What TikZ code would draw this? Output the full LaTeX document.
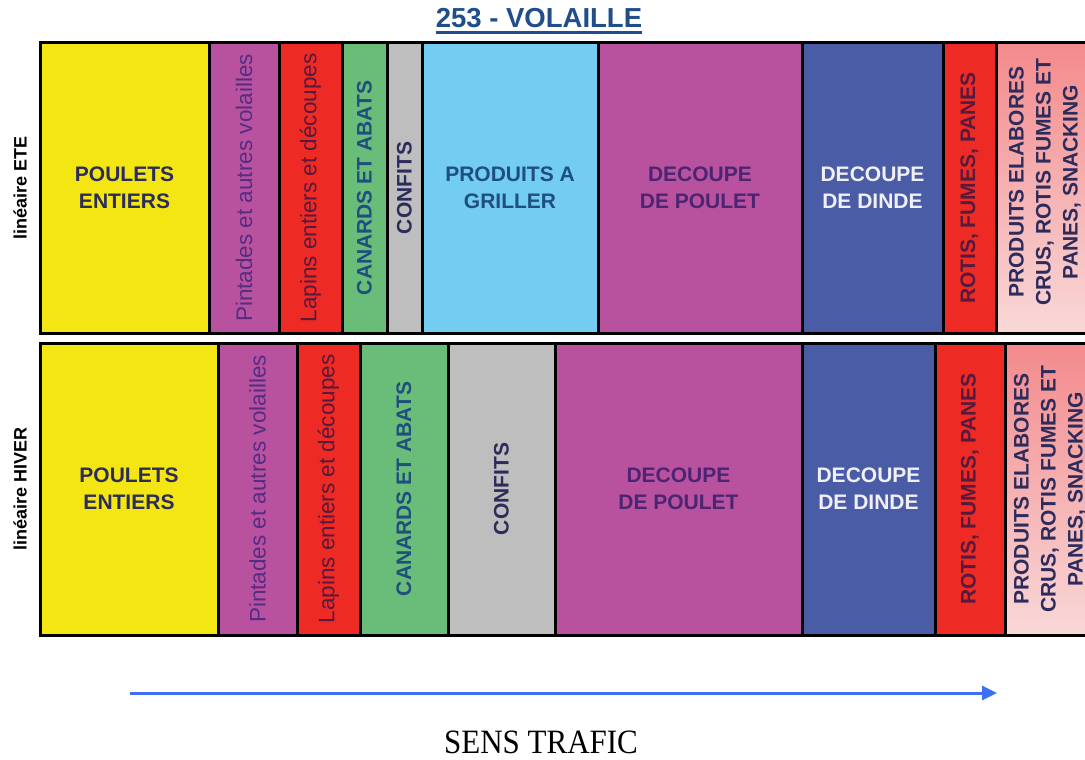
\documentclass[tikz,border=0pt]{standalone}
\usepackage{fontspec}
\setmainfont{Liberation Serif}
\setsansfont{Liberation Sans}
\usepackage{color}
\usepackage{tikz}
\usetikzlibrary{arrows.meta,positioning}

\definecolor{yellowC}{HTML}{F4E612}
\definecolor{purpleC}{HTML}{B9529E}
\definecolor{redC}{HTML}{EE2A25}
\definecolor{greenC}{HTML}{69BD79}
\definecolor{grayC}{HTML}{BEBEBE}
\definecolor{skyC}{HTML}{73CCF1}
\definecolor{dindeC}{HTML}{4B5CA7}
\definecolor{pinkTop}{HTML}{F38A8C}
\definecolor{pinkBot}{HTML}{F9D8D8}
\definecolor{navyT}{HTML}{2C2C5C}
\definecolor{purpleT}{HTML}{552C84}
\definecolor{redT}{HTML}{551A3C}
\definecolor{tealT}{HTML}{1F4F7E}
\definecolor{plumT}{HTML}{4B2472}
\definecolor{dindeT}{HTML}{F0F0F8}
\definecolor{titleblue}{HTML}{1F4E8A}
\definecolor{trafic}{HTML}{3F6FF3}

\newcommand{\cellfont}{\sffamily\bfseries\fontsize{21}{27}\selectfont}
\newcommand{\cellthinfont}{\sffamily\fontsize{22.5}{27}\selectfont}
\newcommand{\volfont}{\sffamily\bfseries\fontsize{27.5}{30}\selectfont}
\newcommand{\sidefont}{\sffamily\bfseries\fontsize{18}{20}\selectfont}
\newcommand{\sensfont}{\rmfamily\fontsize{31}{34}\selectfont}

\begin{document}
\begin{tikzpicture}[x=1pt,y=-1pt]
  \tikzstyle{cell} = [rectangle,draw=black,line width=3pt,inner sep=0pt,outer sep=0pt,align=center,font=\cellfont]
  \tikzstyle{vtext} = [rotate=90,inner sep=0pt,align=center,font=\cellfont]
  \tikzstyle{vthin} = [rotate=90,inner sep=0pt,font=\cellthinfont]

  \useasboundingbox (0,0) rectangle (1085,760);
  \clip (0,0) rectangle (1085,760);

  \node[anchor=base,inner sep=0pt,font=\volfont,text=titleblue] (title) at (539,28) {253 - VOLAILLE};
  \draw[titleblue,line width=3pt] ([yshift=-5pt]title.base west) -- ([yshift=-5pt]title.base east);

  % linéaire ETE
  \node[rotate=90,font=\sidefont] (lblEte) at (20,188) {linéaire ETE};
  \node[cell,fill=yellowC,text=navyT,minimum width=169pt,minimum height=290pt,anchor=north west] (tPoulets) at (40,43) {POULETS\\ENTIERS};
  \node[cell,fill=purpleC,minimum width=70pt,minimum height=290pt,right=0pt of tPoulets] (tPintades) {};
  \node[cell,fill=redC,minimum width=63pt,minimum height=290pt,right=0pt of tPintades] (tLapins) {};
  \node[cell,fill=greenC,minimum width=45pt,minimum height=290pt,right=0pt of tLapins] (tCanards) {};
  \node[cell,fill=grayC,minimum width=35pt,minimum height=290pt,right=0pt of tCanards] (tConfits) {};
  \node[cell,fill=skyC,text=tealT,minimum width=176pt,minimum height=290pt,right=0pt of tConfits] (tGriller) {PRODUITS A\\GRILLER};
  \node[cell,fill=purpleC,text=plumT,minimum width=204pt,minimum height=290pt,right=0pt of tGriller] (tPoulet) {DECOUPE\\DE POULET};
  \node[cell,fill=dindeC,text=dindeT,minimum width=141pt,minimum height=290pt,right=0pt of tPoulet] (tDinde) {DECOUPE\\DE DINDE};
  \node[cell,fill=redC,minimum width=53pt,minimum height=290pt,right=0pt of tDinde] (tRotis) {};
  \node[cell,top color=pinkTop,bottom color=pinkBot,minimum width=98pt,minimum height=290pt,right=0pt of tRotis] (tElabores) {};

  \node[vthin,text=purpleT] (tPintadesTxt) at (tPintades.center) {Pintades et autres volailles};
  \node[vthin,text=redT] (tLapinsTxt) at (tLapins.center) {Lapins entiers et découpes};
  \node[vtext,text=tealT] (tCanardsTxt) at (tCanards.center) {CANARDS ET ABATS};
  \node[vtext,text=navyT] (tConfitsTxt) at (tConfits.center) {CONFITS};
  \node[vtext,text=redT] (tRotisTxt) at (tRotis.center) {ROTIS, FUMES, PANES};
  \node[vtext,text=navyT] (tElaboresTxt) at ([yshift=6pt]tElabores.center) {PRODUITS ELABORES\\CRUS, ROTIS FUMES ET\\PANES, SNACKING};

  % linéaire HIVER
  \node[rotate=90,font=\sidefont] (lblHiver) at (20,489) {linéaire HIVER};
  \node[cell,fill=yellowC,text=navyT,minimum width=178pt,minimum height=292pt,anchor=north west] (hPoulets) at (40,343) {POULETS\\ENTIERS};
  \node[cell,fill=purpleC,minimum width=79pt,minimum height=292pt,right=0pt of hPoulets] (hPintades) {};
  \node[cell,fill=redC,minimum width=63pt,minimum height=292pt,right=0pt of hPintades] (hLapins) {};
  \node[cell,fill=greenC,minimum width=88pt,minimum height=292pt,right=0pt of hLapins] (hCanards) {};
  \node[cell,fill=grayC,minimum width=107pt,minimum height=292pt,right=0pt of hCanards] (hConfits) {};
  \node[cell,fill=purpleC,text=plumT,minimum width=247pt,minimum height=292pt,right=0pt of hConfits] (hPoulet) {DECOUPE\\DE POULET};
  \node[cell,fill=dindeC,text=dindeT,minimum width=133pt,minimum height=292pt,right=0pt of hPoulet] (hDinde) {DECOUPE\\DE DINDE};
  \node[cell,fill=redC,minimum width=70pt,minimum height=292pt,right=0pt of hDinde] (hRotis) {};
  \node[cell,top color=pinkTop,bottom color=pinkBot,minimum width=90pt,minimum height=292pt,right=0pt of hRotis] (hElabores) {};

  \node[vthin,text=purpleT] (hPintadesTxt) at (hPintades.center) {Pintades et autres volailles};
  \node[vthin,text=redT] (hLapinsTxt) at (hLapins.center) {Lapins entiers et découpes};
  \node[vtext,text=tealT] (hCanardsTxt) at (hCanards.center) {CANARDS ET ABATS};
  \node[vtext,text=navyT] (hConfitsTxt) at (hConfits.center) {CONFITS};
  \node[vtext,text=redT] (hRotisTxt) at (hRotis.center) {ROTIS, FUMES, PANES};
  \node[vtext,text=navyT] (hElaboresTxt) at (hElabores.center) {PRODUITS ELABORES\\CRUS, ROTIS FUMES ET\\PANES, SNACKING};

  % sens trafic
  \coordinate (arrStart) at (130,693);
  \coordinate (arrEnd) at (997,693);
  \draw[trafic,line width=3pt,-{Triangle[length=15pt,width=14pt]}] (arrStart) -- (arrEnd);
  \node[font=\sensfont,yscale=1.1,inner sep=0pt] (sens) at (541,742) {SENS TRAFIC};

\end{tikzpicture}
\end{document}
